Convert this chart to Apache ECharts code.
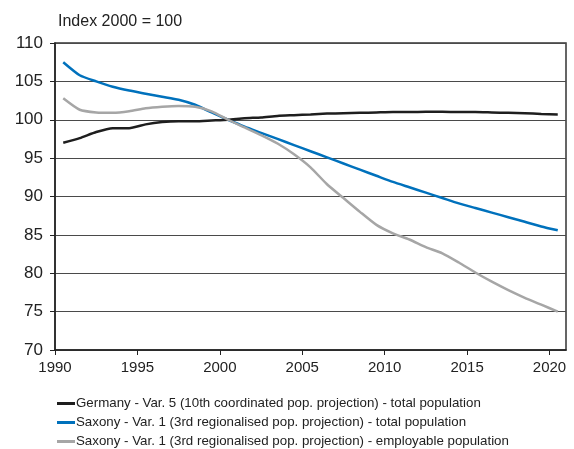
<!DOCTYPE html>
<html>
<head>
<meta charset="utf-8">
<script src="https://cdn.jsdelivr.net/npm/echarts@6/dist/echarts.min.js"></script>
<style>html,body{margin:0;padding:0;background:#fff}#c{width:574px;height:449px}</style>
</head>
<body>
<div id="c"></div>
<script>
var years = [1990,1991,1992,1993,1994,1995,1996,1997,1998,1999,2000,2001,2002,2003,2004,2005,2006,2007,2008,2009,2010,2011,2012,2013,2014,2015,2016,2017,2018,2019,2020];
var germany = [97.0,97.6,98.4,98.9,98.9,99.4,99.7,99.8,99.8,99.9,100.0,100.2,100.3,100.5,100.6,100.7,100.8,100.85,100.9,100.95,101.0,101.0,101.05,101.05,101.0,101.0,100.95,100.9,100.85,100.75,100.7];
var saxonyTotal = [107.5,105.8,105.0,104.3,103.8,103.4,103.0,102.6,101.95,100.95,100.0,99.1,98.3,97.5,96.7,95.9,95.1,94.3,93.5,92.7,91.9,91.2,90.5,89.8,89.1,88.5,87.9,87.3,86.7,86.1,85.6];
var saxonyEmployable = [102.8,101.3,100.95,100.9,101.1,101.5,101.7,101.8,101.7,101.1,100.0,99.0,98.0,96.9,95.5,93.8,91.6,89.8,88.0,86.3,85.2,84.4,83.4,82.6,81.4,80.1,78.9,77.8,76.8,75.9,75.0];
var seriesNames = [
  'Germany - Var. 5 (10th coordinated pop. projection) - total population',
  'Saxony - Var. 1 (3rd regionalised pop. projection) - total population',
  'Saxony - Var. 1 (3rd regionalised pop. projection) - employable population'
];
var colors = ['#1e1e1e','#0071bc','#a6a6a6'];
var yTicks = [70,75,80,85,90,95,100,105,110];

function pts(vals){ return years.map(function(y,i){ return [y + 0.5, vals[i]]; }); }

var chart = echarts.init(document.getElementById('c'), null, {renderer:'canvas'});
var font = 'Liberation Sans, Arial, sans-serif';
function legendFor(i, top){
  return {
    orient:'horizontal', left:52, top:top, itemWidth:18, itemHeight:3, icon:'rect',
    textStyle:{fontFamily:font, fontSize:13.3, color:'#222', padding:[0,0,0,-4]},
    data:[seriesNames[i]]
  };
}
chart.setOption({
  animation:false,
  backgroundColor:'#fff',
  title:{text:'Index 2000 = 100', left:53, top:9, textStyle:{fontFamily:font, fontSize:16, fontWeight:'normal', color:'#222'}},
  grid:{left:55, right:8, top:43, bottom:99, show:true, borderColor:'#333', borderWidth:1.5, backgroundColor:'transparent'},
  legend:[legendFor(0,392), legendFor(1,411), legendFor(2,430)],
  xAxis:{
    type:'value', min:1990, max:2021, interval:5,
    axisLine:{show:true, lineStyle:{color:'#222', width:1.5}},
    axisTick:{show:true, inside:false, length:5, lineStyle:{color:'#222'}},
    axisLabel:{fontFamily:font, fontSize:15, color:'#222', margin:10, showMaxLabel:false,
      formatter:function(v){ return v % 5 === 0 ? String(v) : ''; }},
    splitLine:{show:false}
  },
  yAxis:{
    type:'value', min:yTicks[0], max:yTicks[yTicks.length-1], interval:5,
    axisLine:{show:true, lineStyle:{color:'#222', width:1.5}},
    axisTick:{show:true, inside:false, length:5, lineStyle:{color:'#222'}},
    axisLabel:{fontFamily:font, fontSize:17, color:'#222', margin:12},
    splitLine:{show:true, lineStyle:{color:'#4a4a4a', width:1}}
  },
  series:[
    {name:seriesNames[0], type:'line', data:pts(germany), showSymbol:false, smooth:0.2, lineStyle:{color:colors[0], width:2.5}, itemStyle:{color:colors[0]}, z:3},
    {name:seriesNames[1], type:'line', data:pts(saxonyTotal), showSymbol:false, smooth:0.2, lineStyle:{color:colors[1], width:2.5}, itemStyle:{color:colors[1]}, z:2},
    {name:seriesNames[2], type:'line', data:pts(saxonyEmployable), showSymbol:false, smooth:0.2, lineStyle:{color:colors[2], width:2.5}, itemStyle:{color:colors[2]}, z:4}
  ]
});
</script>
</body>
</html>
